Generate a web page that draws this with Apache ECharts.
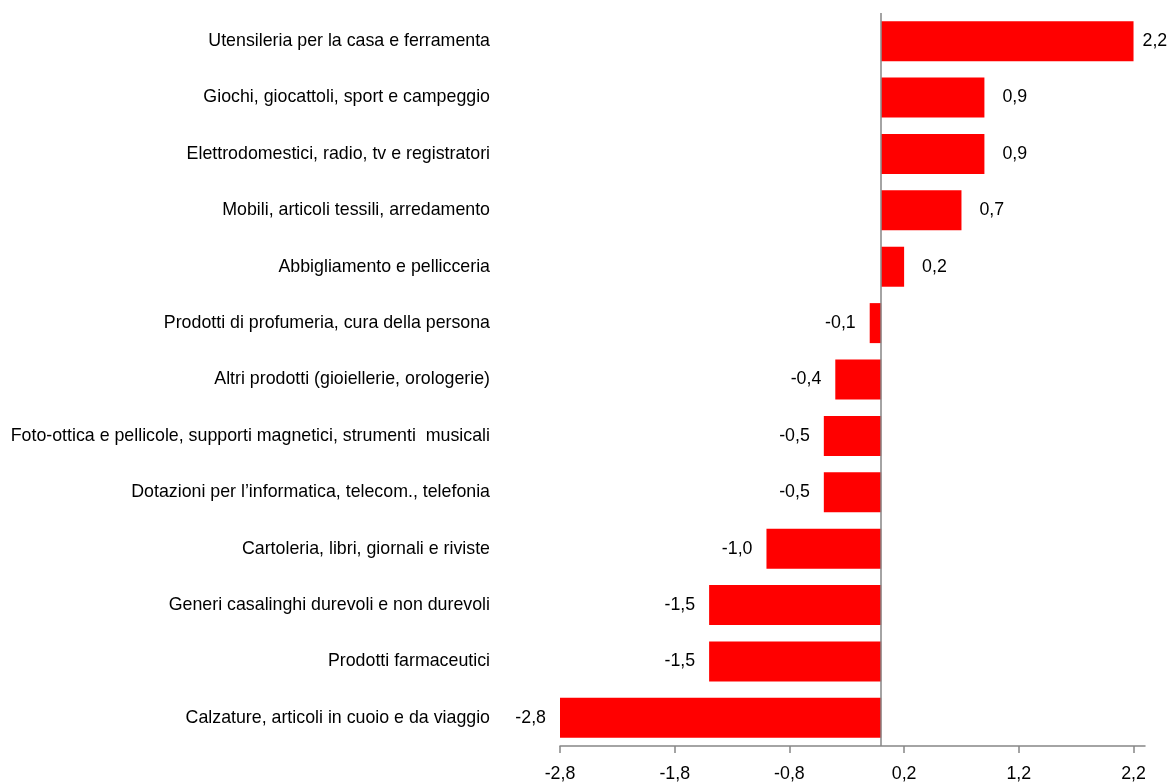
<!DOCTYPE html>
<html>
<head>
<meta charset="utf-8">
<script src="https://cdn.jsdelivr.net/npm/echarts@6/dist/echarts.min.js"></script>
<style>
html,body{margin:0;padding:0;background:#fff;}
#chart{width:1171px;height:783px;}
</style>
</head>
<body>
<div id="chart"></div>
<script>
var categories = [
  "Utensileria per la casa e ferramenta",
  "Giochi, giocattoli, sport e campeggio",
  "Elettrodomestici, radio, tv e registratori",
  "Mobili, articoli tessili, arredamento",
  "Abbigliamento e pellicceria",
  "Prodotti di profumeria, cura della persona",
  "Altri prodotti (gioiellerie, orologerie)",
  "Foto-ottica e pellicole, supporti magnetici, strumenti  musicali",
  "Dotazioni per l\u2019informatica, telecom., telefonia",
  "Cartoleria, libri, giornali e riviste",
  "Generi casalinghi durevoli e non durevoli",
  "Prodotti farmaceutici",
  "Calzature, articoli in cuoio e da viaggio"
];
var values = [2.2, 0.9, 0.9, 0.7, 0.2, -0.1, -0.4, -0.5, -0.5, -1.0, -1.5, -1.5, -2.8];
var tickValues = [-2.8, -1.8, -0.8, 0.2, 1.2, 2.2];

function fmt(v){ return v.toFixed(1).replace('.', ','); }

var chart = echarts.init(document.getElementById('chart'), null, {renderer:'canvas'});
var font = '"Liberation Sans", Arial, sans-serif';
var fs = 17.8;
chart.setOption({
  animation: false,
  grid: {left: 560, right: 26, top: 13, bottom: 37, containLabel: false},
  xAxis: {
    type: 'value',
    min: -2.8,
    max: 2.3,
    interval: 1,
    splitLine: {show: false},
    axisLine: {show: true, lineStyle: {color: '#868686', width: 1.5}},
    axisTick: {show: true, length: 7, lineStyle: {color: '#868686', width: 1.5}, customValues: tickValues},
    axisLabel: {
      customValues: tickValues,
      color: '#000', fontFamily: font, fontSize: fs, margin: 19,
      formatter: function(v){ return fmt(v); }
    }
  },
  yAxis: {
    type: 'category',
    data: categories,
    inverse: true,
    axisLine: {show: false},
    axisTick: {show: false},
    splitLine: {show: false},
    axisLabel: {color: '#000', fontFamily: font, fontSize: fs, margin: 70}
  },
  series: [{
    type: 'bar',
    barWidth: 40,
    itemStyle: {color: '#ff0000'},
    data: values.map(function(v){
      return {value: v, label: {position: v < 0 ? 'left' : 'right', distance: v < 0 ? 14 : (v > 2 ? 9 : 18)}};
    }),
    label: {
      show: true, color: '#000', fontFamily: font, fontSize: fs,
      formatter: function(p){ return fmt(p.value); }
    },
    markLine: {
      silent: true,
      symbol: 'none',
      label: {show: false},
      lineStyle: {color: '#868686', width: 1.5, type: 'solid'},
      data: [{xAxis: 0}]
    }
  }]
});
</script>
</body>
</html>
